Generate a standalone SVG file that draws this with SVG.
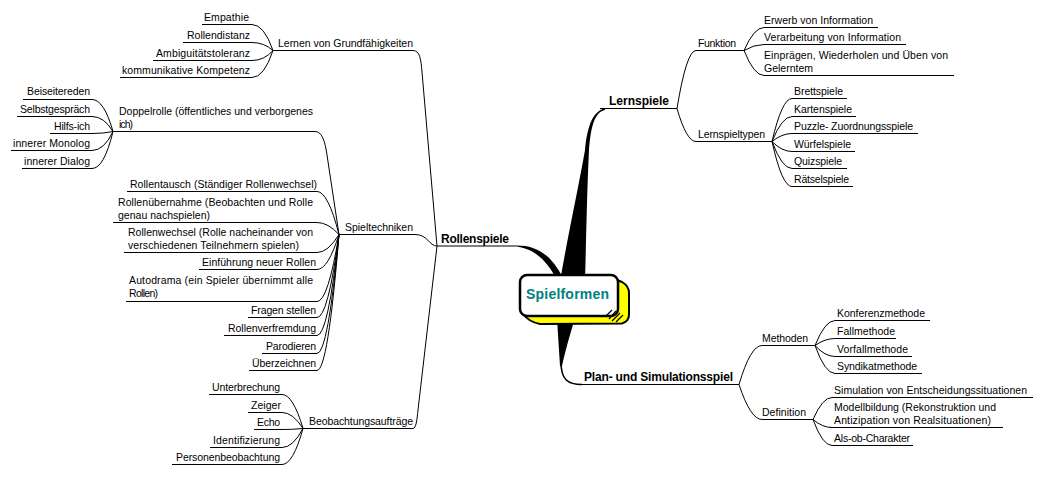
<svg xmlns="http://www.w3.org/2000/svg" width="1041" height="483" viewBox="0 0 1041 483">
<style>
.t{font-family:"Liberation Sans",Arial,sans-serif;font-size:10.5px;fill:#000}
.b{font-weight:bold;font-size:12px}
.c{font-family:"Liberation Sans",Arial,sans-serif;font-weight:bold;font-size:14px;fill:#008080}
.u,.k path{stroke:#000;stroke-width:1;fill:none}
.k path.f{fill:#000;stroke:none}
.k path.s{stroke-width:1.6}
</style>
<rect width="1041" height="483" fill="#fff"/>
<g id="connectors" class="k">
<!-- center thick -->
<path class="f" d="M560,282 C566,245 578,190 585,150 C587,130 591,112 605,108 L605,110 C595,112 591,125 589,150 C587,190 586,245 585,282 Z"/>
<path class="f" d="M517,245.5 C536,245.5 551,254 563,278 L556,278 C548,264 538,250 517,246.6 Z"/>
<path class="f" d="M557,318 L575,318 C569,338 565,352 562,366 L560,366 C559,350 558,335 557,318 Z"/>
<path class="s" d="M561,362 C561,380 568,384.5 582,384.5"/>
<!-- Rollenspiele branches -->
<path d="M413,50.5 C420,50.5 421,60 422,72 L437,246"/>
<path d="M415,234.5 C428,234.5 429,246 437,246"/>
<path d="M413,428.5 C416,428.5 417,420 418,410 L437,246"/>
<path d="M315,131.5 C322,131.5 325,141 327,155 L339,234.5"/>
<!-- Lernen children -->
<path d="M252,24.5 Q264,24.5 273,50.5"/>
<path d="M252,42.5 Q264,42.5 273,50.5"/>
<path d="M252,60.5 Q264,60.5 273,50.5"/>
<path d="M252,77.5 Q264,77.5 273,50.5"/>
<!-- Doppelrolle children -->
<path d="M92,99.5 Q104,99.5 113,131.5"/>
<path d="M92,116.5 Q104,116.5 113,131.5"/>
<path d="M92,133.5 Q104,133.5 113,131.5"/>
<path d="M92,150.5 Q104,150.5 113,131.5"/>
<path d="M92,168.5 Q104,168.5 113,131.5"/>
<!-- Spieltechniken children -->
<path d="M317,191.5 Q328,191.5 339,234.5"/>
<path d="M317,222.5 Q328,222.5 339,234.5"/>
<path d="M317,252.5 Q328,252.5 339,234.5"/>
<path d="M317,269.5 Q328,269.5 339,234.5"/>
<path d="M317,301.5 Q328,301.5 339,234.5"/>
<path d="M317,317.5 Q328,317.5 339,234.5"/>
<path d="M317,335.5 Q328,335.5 339,234.5"/>
<path d="M317,353.5 Q328,353.5 339,234.5"/>
<path d="M317,370.5 Q328,370.5 339,234.5"/>
<!-- Beobachtung children -->
<path d="M282,394.5 Q293,394.5 303,428.5"/>
<path d="M282,412.5 Q293,412.5 303,428.5"/>
<path d="M282,429.5 Q293,429.5 303,428.5"/>
<path d="M282,447.5 Q293,447.5 303,428.5"/>
<path d="M282,464.5 Q293,464.5 303,428.5"/>
<!-- Lernspiele -->
<path d="M677,108.5 Q686.5,50.5 696,50.5"/>
<path d="M677,108.5 Q686.5,141.5 696,141.5"/>
<path d="M744,50.5 Q754,27.5 764,27.5"/>
<path d="M744,50.5 Q754,44.5 764,44.5"/>
<path d="M744,50.5 Q754,75.5 764,75.5"/>
<path d="M772,141.5 Q782,98.5 792,98.5"/>
<path d="M772,141.5 Q782,116.5 792,116.5"/>
<path d="M772,141.5 Q782,133.5 792,133.5"/>
<path d="M772,141.5 Q782,151.5 792,151.5"/>
<path d="M772,141.5 Q782,168.5 792,168.5"/>
<path d="M772,141.5 Q782,186.5 792,186.5"/>
<!-- Plan -->
<path d="M739,384.5 Q750.5,345.5 762,345.5"/>
<path d="M739,384.5 Q750.5,419.5 762,419.5"/>
<path d="M815,345.5 Q825,320.5 835,320.5"/>
<path d="M815,345.5 Q825,338.5 835,338.5"/>
<path d="M815,345.5 Q825,356.5 835,356.5"/>
<path d="M815,345.5 Q825,373.5 835,373.5"/>
<path d="M813,419.5 Q822.5,397.5 832,397.5"/>
<path d="M813,419.5 Q822.5,427.5 832,427.5"/>
<path d="M813,419.5 Q822.5,445.5 832,445.5"/>
</g>

<g id="center">
<path d="M604,275 L622,282 Q629,286 629,293 L629,315 Q629,321 622,323.5 L540,324 Q529,322 523,314 Z" fill="#ffff00" stroke="#000" stroke-width="2"/>
<rect x="520" y="275" width="98" height="41" rx="7" fill="#fff" stroke="#000" stroke-width="2.5"/>
<path d="M609,319 L616,311 M612,321 L620,313 M616,322 L623,315 M606,316 L612,310" stroke="#000" stroke-width="1.2" fill="none"/>
<text class="c" x="526" y="299" textLength="83">Spielformen</text>
</g>

<g id="n-rollenspiele"><text class="t b" x="441" y="242.5" textLength="68">Rollenspiele</text><path class="u" d="M437,246 H517"/></g>
<g id="n-lernen"><text class="t" x="278" y="46.5" textLength="135">Lernen von Grundfähigkeiten</text><path class="u" d="M273,50.5 H413"/></g>
<g id="n-empathie"><text class="t" x="204" y="21" textLength="45">Empathie</text><path class="u" d="M202,24.5 H252"/></g>
<g id="n-rollendistanz"><text class="t" x="187" y="39" textLength="63">Rollendistanz</text><path class="u" d="M183,42.5 H252"/></g>
<g id="n-ambiguitaet"><text class="t" x="156" y="57" textLength="94">Ambiguitätstoleranz</text><path class="u" d="M153,60.5 H252"/></g>
<g id="n-kommunikativ"><text class="t" x="122" y="74" textLength="128">kommunikative Kompetenz</text><path class="u" d="M120,77.5 H252"/></g>

<g id="n-doppelrolle"><text class="t" x="119" y="114.5" textLength="194">Doppelrolle (öffentliches und verborgenes</text><text class="t" x="119" y="127.5" textLength="14">ich)</text><path class="u" d="M113,131.5 H315"/></g>
<g id="n-beiseitereden"><text class="t" x="27" y="95" textLength="63">Beiseitereden</text><path class="u" d="M23,99.5 H92"/></g>
<g id="n-selbstgespraech"><text class="t" x="20" y="112.5" textLength="70">Selbstgespräch</text><path class="u" d="M17,116.5 H92"/></g>
<g id="n-hilfsich"><text class="t" x="54" y="130" textLength="36">Hilfs-ich</text><path class="u" d="M50,133.5 H92"/></g>
<g id="n-monolog"><text class="t" x="13" y="147" textLength="77">innerer Monolog</text><path class="u" d="M11,150.5 H92"/></g>
<g id="n-dialog"><text class="t" x="24" y="165" textLength="66">innerer Dialog</text><path class="u" d="M22,168.5 H92"/></g>

<g id="n-spieltechniken"><text class="t" x="345" y="231" textLength="68">Spieltechniken</text><path class="u" d="M339,234.5 H415"/></g>
<g id="n-rollentausch"><text class="t" x="130" y="188" textLength="187">Rollentausch (Ständiger Rollenwechsel)</text><path class="u" d="M127,191.5 H317"/></g>
<g id="n-rollenuebernahme"><text class="t" x="118" y="205.5" textLength="195">Rollenübernahme (Beobachten und Rolle</text><text class="t" x="118" y="218.5" textLength="92">genau nachspielen)</text><path class="u" d="M113,222.5 H317"/></g>
<g id="n-rollenwechsel"><text class="t" x="128" y="235.5" textLength="185">Rollenwechsel (Rolle nacheinander von</text><text class="t" x="128" y="248.5" textLength="171">verschiedenen Teilnehmern spielen)</text><path class="u" d="M124,252.5 H317"/></g>
<g id="n-einfuehrung"><text class="t" x="202" y="266" textLength="114">Einführung neuer Rollen</text><path class="u" d="M199,269.5 H317"/></g>
<g id="n-autodrama"><text class="t" x="129" y="284" textLength="184">Autodrama (ein Spieler übernimmt alle</text><text class="t" x="129" y="297" textLength="29">Rollen)</text><path class="u" d="M126,301.5 H317"/></g>
<g id="n-fragen"><text class="t" x="251" y="314" textLength="65">Fragen stellen</text><path class="u" d="M248,317.5 H317"/></g>
<g id="n-verfremdung"><text class="t" x="228" y="332" textLength="88">Rollenverfremdung</text><path class="u" d="M224,335.5 H317"/></g>
<g id="n-parodieren"><text class="t" x="266" y="350" textLength="50">Parodieren</text><path class="u" d="M262,353.5 H317"/></g>
<g id="n-ueberzeichnen"><text class="t" x="252" y="367" textLength="64">Überzeichnen</text><path class="u" d="M249,370.5 H317"/></g>

<g id="n-beobachtung"><text class="t" x="309" y="425" textLength="104">Beobachtungsaufträge</text><path class="u" d="M303,428.5 H413"/></g>
<g id="n-unterbrechung"><text class="t" x="212" y="391" textLength="68">Unterbrechung</text><path class="u" d="M209,394.5 H282"/></g>
<g id="n-zeiger"><text class="t" x="251" y="409" textLength="30">Zeiger</text><path class="u" d="M248,412.5 H282"/></g>
<g id="n-echo"><text class="t" x="257" y="426" textLength="23">Echo</text><path class="u" d="M254,429.5 H282"/></g>
<g id="n-identifizierung"><text class="t" x="213" y="444" textLength="67">Identifizierung</text><path class="u" d="M210,447.5 H282"/></g>
<g id="n-personen"><text class="t" x="176" y="461" textLength="104">Personenbeobachtung</text><path class="u" d="M172,464.5 H282"/></g>

<g id="n-lernspiele"><text class="t b" x="609" y="104.5" textLength="60">Lernspiele</text><path class="u" d="M600,108.5 H677"/></g>
<g id="n-funktion"><text class="t" x="698" y="47" textLength="38">Funktion</text><path class="u" d="M696,50.5 H744"/></g>
<g id="n-erwerb"><text class="t" x="764" y="24" textLength="109">Erwerb von Information</text><path class="u" d="M764,27.5 H878"/></g>
<g id="n-verarbeitung"><text class="t" x="764" y="41" textLength="137">Verarbeitung von Information</text><path class="u" d="M764,44.5 H906"/></g>
<g id="n-einpraegen"><text class="t" x="764" y="58.5" textLength="184">Einprägen, Wiederholen und Üben von</text><text class="t" x="764" y="71.5" textLength="49">Gelerntem</text><path class="u" d="M764,75.5 H954"/></g>
<g id="n-lernspieltypen"><text class="t" x="698" y="137.5" textLength="67">Lernspieltypen</text><path class="u" d="M696,141.5 H772"/></g>
<g id="n-brettspiele"><text class="t" x="794" y="95" textLength="49">Brettspiele</text><path class="u" d="M792,98.5 H847"/></g>
<g id="n-kartenspiele"><text class="t" x="794" y="113" textLength="58">Kartenspiele</text><path class="u" d="M792,116.5 H856"/></g>
<g id="n-puzzle"><text class="t" x="794" y="130" textLength="119">Puzzle- Zuordnungsspiele</text><path class="u" d="M792,133.5 H918"/></g>
<g id="n-wuerfel"><text class="t" x="794" y="148" textLength="57">Würfelspiele</text><path class="u" d="M792,151.5 H855"/></g>
<g id="n-quiz"><text class="t" x="794" y="165" textLength="48">Quizspiele</text><path class="u" d="M792,168.5 H847"/></g>
<g id="n-raetsel"><text class="t" x="794" y="183" textLength="55">Rätselspiele</text><path class="u" d="M792,186.5 H853"/></g>

<g id="n-plan"><text class="t b" x="584" y="381" textLength="149">Plan- und Simulationsspiel</text><path class="u" d="M582,384.5 H739"/></g>
<g id="n-methoden"><text class="t" x="762" y="342" textLength="46">Methoden</text><path class="u" d="M762,345.5 H815"/></g>
<g id="n-konferenz"><text class="t" x="837" y="317" textLength="88">Konferenzmethode</text><path class="u" d="M835,320.5 H930"/></g>
<g id="n-fall"><text class="t" x="837" y="335" textLength="58">Fallmethode</text><path class="u" d="M835,338.5 H896"/></g>
<g id="n-vorfall"><text class="t" x="837" y="353" textLength="71">Vorfallmethode</text><path class="u" d="M835,356.5 H912"/></g>
<g id="n-syndikat"><text class="t" x="837" y="370" textLength="80">Syndikatmethode</text><path class="u" d="M835,373.5 H922"/></g>
<g id="n-definition"><text class="t" x="762" y="416" textLength="44">Definition</text><path class="u" d="M762,419.5 H813"/></g>
<g id="n-simulation"><text class="t" x="834" y="393.5" textLength="193">Simulation von Entscheidungssituationen</text><path class="u" d="M832,397.5 H1033"/></g>
<g id="n-modell"><text class="t" x="834" y="410.5" textLength="162">Modellbildung (Rekonstruktion und</text><text class="t" x="834" y="423.5" textLength="157">Antizipation von Realsituationen)</text><path class="u" d="M830,427.5 H1003"/></g>
<g id="n-alsob"><text class="t" x="834" y="441.5" textLength="76">Als-ob-Charakter</text><path class="u" d="M832,445.5 H913"/></g>
</svg>
